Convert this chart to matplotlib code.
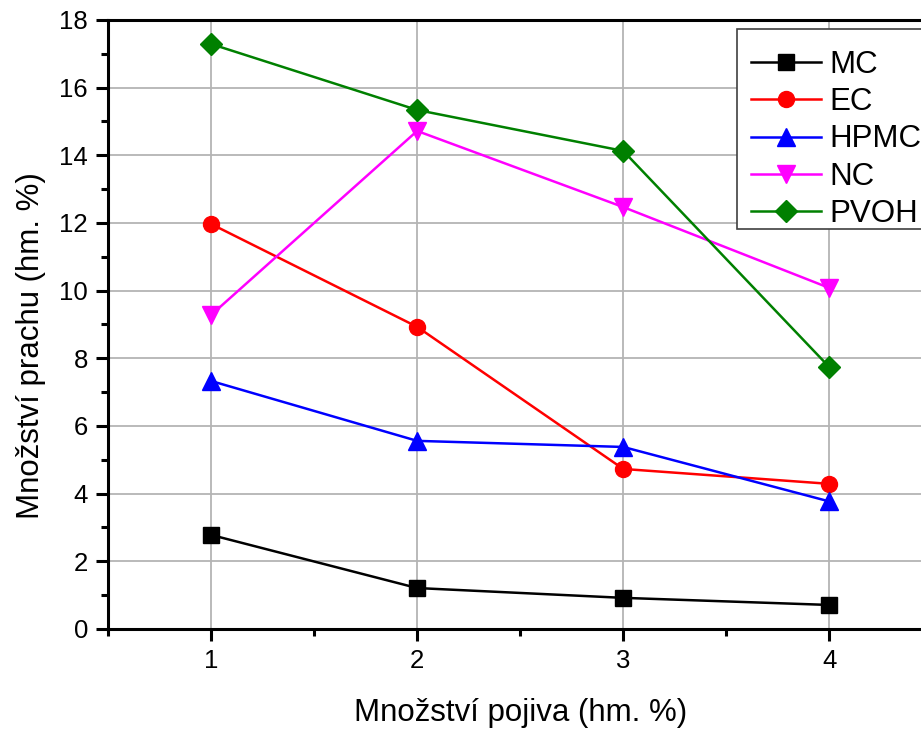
import matplotlib.pyplot as plt
from matplotlib.patches import Rectangle
from matplotlib.ticker import MultipleLocator

plt.rcParams['font.family'] = ['Liberation Sans', 'DejaVu Sans']

binder = [1, 2, 3, 4]
mc = [2.78, 1.21, 0.92, 0.71]
ec = [11.97, 8.93, 4.73, 4.29]
hpmc = [7.33, 5.56, 5.38, 3.77]
nc = [9.28, 14.72, 12.47, 10.08]
pvoh = [17.29, 15.34, 14.13, 7.74]

# name, values, colour, marker, marker size
series = [
    ('MC', mc, 'black', 's', 11.5),
    ('EC', ec, 'red', 'o', 11.5),
    ('HPMC', hpmc, 'blue', '^', 12.5),
    ('NC', nc, 'magenta', 'v', 12.5),
    ('PVOH', pvoh, 'green', 'D', 11),
]

fig = plt.figure(figsize=(9.21, 7.29), dpi=100)
ax = fig.add_axes([0.1173, 0.1372, 0.895, 0.8354])

for name, vals, col, mk, ms in series:
    ax.plot(binder, vals, color=col, marker=mk, markersize=ms, linewidth=1.8,
            label=name, zorder=3)

ax.set_xlim(0.5, 4.5)
ax.set_ylim(0, 18)
ax.xaxis.set_major_locator(MultipleLocator(1))
ax.xaxis.set_minor_locator(MultipleLocator(0.5))
ax.yaxis.set_major_locator(MultipleLocator(2))
ax.yaxis.set_minor_locator(MultipleLocator(1))
ax.grid(True, which='major', color='#b4b4b4', linewidth=1.3)
ax.set_axisbelow(True)

for s in ax.spines.values():
    s.set_linewidth(2.2)
ax.tick_params(which='major', direction='out', length=8.5, width=2.2, labelsize=18.5, pad=6)
ax.tick_params(which='minor', direction='out', length=5, width=2.2)

ax.set_xlabel('Množství pojiva (hm. %)', fontsize=22.5, labelpad=18)
ax.set_ylabel('Množství prachu (hm. %)', fontsize=22.5)
ax.yaxis.set_label_coords(-0.075, 0.465)

# legend box drawn separately so the rows sit a bit lower inside it
box = Rectangle((737 / 921, 1 - 229 / 729), 0.3, 200 / 729, transform=fig.transFigure,
                facecolor='white', edgecolor='#404040', linewidth=1.2,
                zorder=4, clip_on=False)
ax.add_artist(box)

leg = ax.legend(loc='upper left', bbox_to_anchor=(737 / 921, 1 - 36 / 729),
                bbox_transform=fig.transFigure, fontsize=22.5, frameon=False,
                handlelength=2.25, labelspacing=0.23, handletextpad=0.25,
                borderpad=0.45, borderaxespad=0)
leg.set_zorder(5)

fig.savefig('out.png', dpi=100)
